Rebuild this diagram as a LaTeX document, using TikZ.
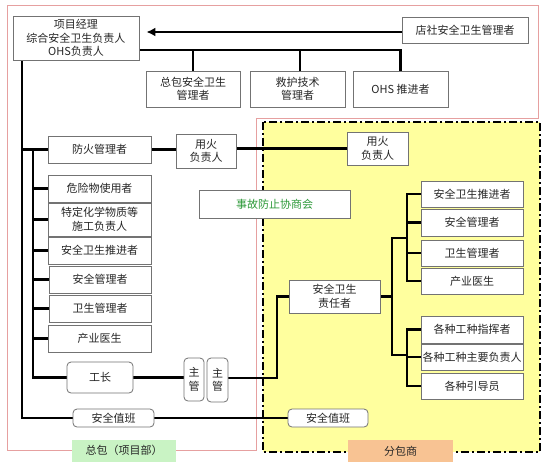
\documentclass[tikz,border=0pt]{standalone}
\usepackage{fontspec}
\setmainfont{Noto Sans CJK SC}
\usetikzlibrary{arrows.meta,backgrounds}
\pgfdeclarelayer{bgzero}
\pgfsetlayers{bgzero,background,main}
\definecolor{pinkline}{HTML}{E6A0A0}
\definecolor{yel}{HTML}{FFFF9E}
\definecolor{lgreen}{HTML}{C9F3C4}
\definecolor{peach}{HTML}{F8C393}
\definecolor{tgreen}{HTML}{2E9A3A}
\begin{document}
\begin{tikzpicture}[x=1pt,y=-1pt,
  bx/.style={draw=black!55, line width=0.8pt, fill=white, text=black!85,
    font=\fontsize{11}{13.5}\selectfont, align=center, inner sep=0pt},
  rbx/.style={bx, rounded corners=4pt},
  conn/.style={draw=black, line width=2.2pt, line cap=rect},
  lbl/.style={inner sep=0pt, text=black!85, font=\fontsize{11}{13.5}\selectfont}]
\useasboundingbox (0,0) rectangle (560,467);

% nodes
\node[bx, minimum width=126pt, minimum height=44pt] (pm) at (76,38) {项目经理\\综合安全卫生负责人\\OHS负责人};
\node[bx, minimum width=126pt, minimum height=26pt] (dianshe) at (465,30) {店社安全卫生管理者};
\node[bx, minimum width=94pt, minimum height=36pt] (zongbao) at (193,89) {总包安全卫生\\管理者};
\node[bx, minimum width=95pt, minimum height=36pt] (jiuhu) at (297.5,89) {救护技术\\管理者};
\node[bx, minimum width=95pt, minimum height=36pt] (ohs) at (400.5,89) {OHS 推进者};

\node[bx, minimum width=103pt, minimum height=27pt] (fanghuo) at (99.5,149.5) {防火管理者};
\node[bx, minimum width=60pt, minimum height=34pt] (yonghuoA) at (206,151) {用火\\负责人};
\node[bx, minimum width=61pt, minimum height=33pt] (yonghuoB) at (377.5,148.5) {用火\\负责人};
\node[bx, minimum width=103pt, minimum height=27pt] (weixian) at (99.5,188.5) {危险物使用者};
\node[bx, minimum width=103pt, minimum height=33pt] (teding) at (99.5,219.5) {特定化学物质等\\施工负责人};
\node[bx, minimum width=103pt, minimum height=27pt] (tuijinL) at (99.5,250.5) {安全卫生推进者};
\node[bx, minimum width=102pt, minimum height=27pt] (anquanL) at (100,279.5) {安全管理者};
\node[bx, minimum width=102pt, minimum height=27pt] (weishengL) at (100,308.5) {卫生管理者};
\node[bx, minimum width=103pt, minimum height=27pt] (chanyeL) at (99.5,338.5) {产业医生};

\node[rbx, minimum width=66pt, minimum height=31pt] (gongzhang) at (100,377.5) {工长};
\node[rbx, minimum width=20pt, minimum height=43pt] (zhuguanA) at (194,379.5) {主\\管};
\node[rbx, minimum width=21pt, minimum height=44pt] (zhuguanB) at (217.5,380) {主\\管};
\node[rbx, minimum width=81pt, minimum height=18pt] (zhibanL) at (113.5,418) {安全值班};
\node[rbx, minimum width=80pt, minimum height=18pt] (zhibanR) at (328,418) {安全值班};

\node[bx, minimum width=151pt, minimum height=28pt, text=tgreen] (shigu) at (274.5,204) {事故防止协商会};
\node[bx, minimum width=91pt, minimum height=33pt] (zeren) at (334.5,296.5) {安全卫生\\责任者};

\node[bx, minimum width=102pt, minimum height=26pt] (tuijinR) at (472,194) {安全卫生推进者};
\node[bx, minimum width=102pt, minimum height=27pt] (anquanR) at (472,222.5) {安全管理者};
\node[bx, minimum width=102pt, minimum height=26pt] (weishengR) at (472,253) {卫生管理者};
\node[bx, minimum width=102pt, minimum height=26pt] (chanyeR) at (472,281) {产业医生};
\node[bx, minimum width=102pt, minimum height=27pt] (zhihui) at (472,329.5) {各种工种指挥者};
\node[bx, minimum width=102pt, minimum height=26pt] (zhuyao) at (472,357) {各种工种主要负责人};
\node[bx, minimum width=102pt, minimum height=26pt] (yindao) at (472,386) {各种引导员};

% regions and labels
\begin{pgfonlayer}{bgzero}
  \fill[white] (0,0) rectangle (560,467);
  \draw[pinkline, line width=1pt] (7,5) -- (538,5) -- (538,118) -- (256,118) -- (256,450) -- (7,450) -- cycle;
  \fill[yel] (263,122) rectangle (540,452);
  \draw[black, line width=2.2pt, dash pattern=on 8pt off 3pt on 2pt off 3pt] (263,122) rectangle (540,452);
  \node[lbl, fill=lgreen, minimum width=104pt, minimum height=22pt] (zblabel) at (124,450.5) {总包（项目部）};
  \node[lbl, fill=peach, minimum width=105pt, minimum height=22pt] (fblabel) at (400.5,451) {分包商};
\end{pgfonlayer}

% connectors
\coordinate (tA) at (22,0);
\coordinate (tB) at (33,0);
\coordinate (tC) at (277,0);
\coordinate (tD) at (392,0);
\coordinate (tE) at (407,0);
\coordinate (bus) at (139,50);
\coordinate (upj) at (392,238);
\coordinate (loj) at (392,355);

\begin{pgfonlayer}{background}
  \draw[black, line width=2.2pt, -{Latex[length=9pt,width=9pt]}, shorten >=7pt] (dianshe.west |- 0,32) -- (pm.east |- 0,32);
  \draw[conn] (bus) -| (ohs.north);
  \draw[conn] (zongbao.north) -- (zongbao.north |- bus);
  \draw[conn] ([xshift=2.5pt]jiuhu.north) -- ([xshift=2.5pt]jiuhu.north |- bus);

  \draw[conn] (pm.south -| tA) -- (zhibanL.west -| tA) -- (zhibanL.west);
  \draw[conn] (fanghuo.west -| tA) -- (fanghuo.west);
  \draw[conn] (fanghuo.west -| tB) -- (gongzhang.west -| tB) -- (gongzhang.west);
  \foreach \n in {weixian,teding,tuijinL,anquanL,weishengL,chanyeL}
    \draw[conn] (\n.west -| tB) -- (\n.west);

  \draw[conn] (fanghuo.east) -- (yonghuoA.west |- fanghuo.east);
  \draw[conn] (yonghuoA.east |- yonghuoB.west) -- (yonghuoB.west);

  \draw[conn] (gongzhang.east) -- (zhuguanA.west |- gongzhang.east);
  \draw[conn] (zhuguanB.east |- 0,378) -- (tC |- 0,378) -- (tC |- zeren.west) -- (zeren.west);

  \draw[conn] (zeren.east) -- (zeren.east -| tD);
  \draw[conn] (upj) -- (loj);
  \draw[conn] (upj) -- (upj -| tE);
  \draw[conn] (loj) -- (loj -| tE);
  \draw[conn] (tuijinR.west -| tE) -- (chanyeR.west -| tE);
  \draw[conn] (zhihui.west -| tE) -- (yindao.west -| tE);
  \foreach \n in {tuijinR,anquanR,weishengR,chanyeR,zhihui,zhuyao,yindao}
    \draw[conn] (\n.west -| tE) -- (\n.west);

  \draw[conn] (zhibanL.east) -- (zhibanR.west);
\end{pgfonlayer}
\end{tikzpicture}
\end{document}
